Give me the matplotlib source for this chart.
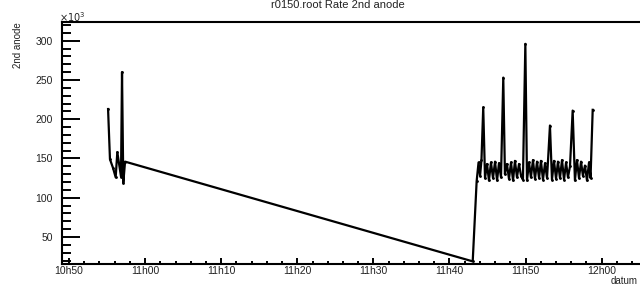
import matplotlib
matplotlib.use("Agg")
import matplotlib.pyplot as plt
from matplotlib.ticker import MultipleLocator, FuncFormatter

plt.rcParams['font.family'] = ['Liberation Sans', 'DejaVu Sans']

# --- data (time of day, rate in units of 10^3) ---
times = [
    "10:55:08", "10:55:23", "10:55:47", "10:56:08", "10:56:21", "10:56:50",
    "10:56:58", "10:57:08", "10:57:22",
    "11:43:03",
    "11:43:34", "11:43:49", "11:44:01", "11:44:12", "11:44:26", "11:44:40",
    "11:44:56", "11:45:11", "11:45:27", "11:45:43", "11:45:59", "11:46:15",
    "11:46:30", "11:46:46", "11:47:04", "11:47:17", "11:47:33", "11:47:49",
    "11:48:05", "11:48:21", "11:48:36", "11:48:52", "11:49:08", "11:49:24",
    "11:49:39", "11:49:58", "11:50:11", "11:50:27", "11:50:42", "11:50:58",
    "11:51:14", "11:51:30", "11:51:46", "11:52:01", "11:52:17", "11:52:33",
    "11:52:49", "11:53:12", "11:53:28", "11:53:44", "11:54:00", "11:54:15",
    "11:54:31", "11:54:47", "11:55:03", "11:55:19", "11:55:34", "11:55:50",
    "11:56:11", "11:56:29", "11:56:45", "11:57:01", "11:57:17", "11:57:32",
    "11:57:48", "11:58:04", "11:58:20", "11:58:32", "11:58:49",
]
rate_k = [
    213, 149, 138, 126, 158, 127,
    260, 119, 146,
    19,
    121, 145, 128, 148, 215, 125,
    143, 122, 145, 125, 146, 122,
    144, 126, 253, 130, 143, 124,
    145, 122, 147, 126, 143, 128,
    123, 296, 122, 145, 126, 148,
    124, 146, 125, 147, 123, 144,
    125, 192, 123, 147, 124, 146,
    125, 148, 123, 145, 126, 140,
    211, 122, 148, 125, 146, 128,
    141, 122, 145, 125, 212,
]

title = "r0150.root Rate 2nd anode"
ylabel = "2nd anode"
xlabel = "datum"

t0 = 10 * 60 + 50  # 10h50 in minutes


def to_min(s):
    h, m, sec = map(int, s.split(":"))
    return h * 60 + m + sec / 60.0 - t0


x = [to_min(t) for t in times]

W, H = 640, 288
fig = plt.figure(figsize=(W / 100, H / 100), dpi=100)
ax = fig.add_axes([62 / W, (H - 263.5) / H, (645 - 62) / W, (263.5 - 22) / H])
ax.plot(x, rate_k, color="black", lw=1.6, marker=".", ms=2)

ax.set_xlim(-0.92, 75.69)
ax.set_ylim(16.3, 323.8)

ax.xaxis.set_major_locator(MultipleLocator(10))
ax.xaxis.set_minor_locator(MultipleLocator(2))
ax.yaxis.set_major_locator(MultipleLocator(50))
ax.yaxis.set_minor_locator(MultipleLocator(10))


def fmt_time(v, pos):
    m = int(round(v)) + t0
    return f"{m // 60}h{m % 60:02d}"


ax.xaxis.set_major_formatter(FuncFormatter(fmt_time))

for s in ["left", "bottom", "top"]:
    ax.spines[s].set_linewidth(1.5)
ax.spines["right"].set_visible(False)

ax.tick_params(axis="x", which="major", direction="in", length=4.3, width=1.4,
               pad=2.0, labelsize=7.5, top=False, labelcolor="#222222")
ax.tick_params(axis="x", which="minor", direction="in", length=2.2, width=1.4, top=False)
ax.tick_params(axis="y", which="major", direction="in", length=13, width=1.4,
               pad=6.5, labelsize=7.5, right=False, labelcolor="#222222")
ax.tick_params(axis="y", which="minor", direction="in", length=6.5, width=1.4, right=False)

fig.text(338 / W, 1 - 5 / H, title, ha="center", va="center", fontsize=8, color="#222222")
fig.text(59 / W, 1 - 17 / H, r"$\times10^{3}$", ha="left", va="center", fontsize=7, color="#222222")
fig.text(18 / W, 1 - 22 / H, ylabel, ha="center", va="top", rotation=90, fontsize=7, color="#222222")
fig.text(638 / W, 1 - 281 / H, xlabel, ha="right", va="center", fontsize=7, color="#222222")

fig.savefig("out.png", dpi=100)
